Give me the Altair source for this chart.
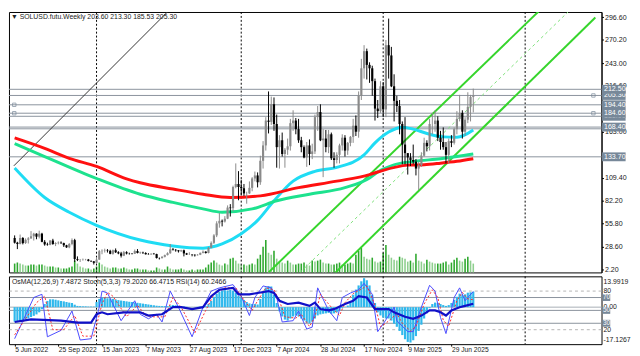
import altair as alt
import pandas as pd

FONT = "Liberation Sans"
W, H_MAIN, H_SUB = 603, 265, 69
START = pd.Timestamp("2022-06-05")

# ---------------- weekly bars (from 2022-06-05) ----------------
first_open = 39.0
closes = [33.5,32.0,39.0,33.0,37.0,38.5,41.0,44.0,40.5,44.0,
          34.5,31.5,31.0,36.0,32.0,33.0,33.5,33.0,30.5,28.0,
          32.0,36.5,14.5,13.5,13.5,13.7,13.8,12.2,11.7,10.0,
          13.7,23.6,24.0,24.4,23.9,20.5,24.7,22.3,21.0,18.3,
          22.4,20.9,20.8,20.6,23.8,21.5,21.9,21.5,20.0,19.8,
          20.6,20.2,15.6,15.4,17.0,19.0,21.2,25.8,25.2,24.6,
          23.5,24.6,21.0,19.7,19.8,19.4,18.8,19.4,21.6,23.0,
          21.5,27.5,33.3,42.0,56.0,59.0,58.2,61.5,74.5,73.8,
          98.5,102.0,98.5,97.0,91.0,91.0,97.5,108.5,112.0,104.0,
          129.0,147.0,176.0,174.5,195.0,172.0,145.0,153.0,137.0,142.0,
          146.0,173.0,176.0,166.0,153.0,145.0,133.0,147.0,137.0,140.0,
          180.0,186.0,153.0,155.0,145.0,160.0,132.0,130.0,136.0,147.0,
          156.0,141.0,150.0,157.0,170.0,163.0,205.0,237.0,257.0,241.0,
          237.0,222.0,190.0,187.0,216.0,189.0,264.0,252.0,216.0,199.0,
          193.0,172.0,148.0,138.0,133.0,130.0,128.0,120.0,124.0,135.0,
          150.0,146.0,172.0,172.0,176.0,156.0,151.0,145.0,136.0,152.0,
          150.0,166.0,178.0,185.0,163.0,177.0,192.0,203.6,205.3]
highs = [42.0,34.5,43.0,40.0,38.5,40.0,47.0,45.0,44.5,47.5,
         45.0,36.5,33.5,36.5,38.0,34.0,35.0,35.0,33.5,31.0,
         33.0,38.5,38.0,17.5,14.5,15.0,14.6,14.5,12.8,12.0,
         16.5,25.0,25.7,26.5,26.0,25.2,25.5,26.8,23.5,22.8,
         23.8,23.5,21.8,21.4,25.5,26.0,23.0,23.0,22.3,21.3,
         21.0,21.5,20.6,16.2,17.8,19.6,22.3,32.0,27.3,26.0,
         24.8,25.2,25.4,21.6,22.3,20.0,19.9,20.2,22.0,24.5,
         23.5,28.5,35.0,43.5,58.5,68.2,60.5,64.5,77.0,78.5,
         100.0,126.0,117.0,107.0,102.0,93.0,105.0,110.0,116.5,115.5,
         135.0,152.0,180.0,210.0,204.0,203.0,183.0,159.0,162.0,144.0,
         155.0,178.0,188.0,179.0,178.0,157.0,147.0,151.0,154.0,149.0,
         183.0,193.0,195.0,166.0,165.0,165.0,162.0,139.0,139.0,149.0,
         160.0,159.0,151.0,158.0,178.0,182.0,210.0,248.0,264.0,260.0,
         244.0,240.0,225.0,200.0,222.0,221.0,270.0,295.0,262.0,230.0,
         205.0,200.0,175.0,180.0,138.0,138.0,148.0,131.0,128.0,139.0,
         156.0,153.0,178.0,185.0,188.0,181.0,164.0,168.0,151.0,155.0,
         159.0,168.0,187.0,206.0,188.0,180.0,209.0,206.0,213.3]
lows = [32.5,26.0,31.5,31.5,32.0,32.5,38.0,36.0,37.5,38.5,
        34.0,30.0,30.0,30.5,31.0,29.5,31.5,32.0,28.5,27.5,
        27.0,30.5,11.0,12.0,11.0,12.5,12.8,11.6,11.0,8.0,
        9.6,13.5,20.0,22.0,22.0,20.0,19.5,21.5,20.0,16.2,
        17.8,19.8,19.6,19.8,20.3,21.0,20.5,20.3,19.6,19.5,
        19.5,19.6,15.0,13.9,15.2,16.3,18.6,20.5,24.3,23.0,
        22.0,22.7,17.5,19.2,19.2,17.6,17.3,18.5,19.0,21.0,
        20.8,21.0,27.0,32.0,40.0,51.0,52.5,57.0,61.0,64.0,
        70.0,97.0,83.0,88.5,88.0,79.0,90.5,93.5,105.0,98.0,
        101.0,120.0,141.0,161.0,171.0,164.0,121.0,120.0,134.0,121.0,
        136.0,141.0,164.0,160.0,150.0,139.0,132.0,122.0,124.0,131.0,
        137.0,164.0,152.0,110.0,139.0,138.0,130.0,121.0,126.0,126.0,
        141.0,134.0,136.0,146.0,150.0,158.0,156.0,200.0,225.0,224.0,
        220.0,205.0,176.0,179.0,185.0,180.0,180.0,225.0,215.0,175.0,
        186.0,160.0,125.0,125.0,113.0,123.0,125.0,112.0,95.0,122.0,
        134.0,140.0,141.0,160.0,163.0,152.0,142.0,142.0,126.0,126.0,
        145.0,148.0,160.0,175.0,155.0,158.0,173.0,175.0,185.53]
volumes = [9,10,9,8,7,7,8,8,7,8,
           8,7,6,6,6,5,5,4,4,4,
           5,6,12,9,6,5,4,4,3,4,
           6,10,8,6,5,4,5,5,4,4,
           5,4,3,3,4,4,3,3,3,2,
           2,2,5,4,3,3,6,4,3,3,
           3,4,3,2,2,3,2,3,3,3,
           5,8,10,12,10,8,7,9,8,14,
           15,12,9,8,8,7,8,9,8,14,
           18,26,33,20,18,22,14,11,10,9,
           12,10,8,8,9,9,10,8,7,12,
           11,12,13,10,9,9,8,8,9,10,
           8,8,9,10,9,18,22,25,16,14,
           13,15,11,10,11,20,28,18,15,13,
           12,16,15,14,11,12,10,19,12,11,
           9,13,11,10,9,9,9,10,11,8,
           10,13,15,12,11,14,16,12,9]
osma = [-7.0,-7.2,-7.0,-6.6,-6.0,-5.4,-4.8,-4.2,-3.5,-2.5,
        -1.0,1.5,3.0,3.8,3.8,3.6,3.3,3.0,2.8,2.5,
        2.2,2.0,1.2,0.6,0.5,0.4,0.4,0.3,0.3,0.3,
        2.5,4.0,4.6,4.6,4.3,4.2,4.0,3.7,3.4,3.2,
        3.0,2.8,2.6,2.5,2.3,2.1,1.9,1.7,1.5,1.3,
        1.1,0.9,0.7,0.6,0.5,0.5,0.5,0.8,1.0,0.9,
        0.7,0.5,0.3,0.2,0.1,0.1,0.1,0.2,0.3,0.4,
        0.5,1.5,3.0,5.0,6.5,7.5,8.0,8.2,8.0,8.3,
        8.0,7.0,5.5,4.5,3.5,2.5,1.8,1.5,1.5,1.3,
        4.0,7.0,9.5,10.2,10.0,6.0,2.0,-2.0,-4.5,-6.0,
        -6.5,-5.5,-4.5,-4.0,-4.5,-5.5,-6.5,-7.5,-7.8,-7.0,
        -5.5,-4.0,-3.5,-3.2,-3.0,-2.8,-3.2,-3.0,-2.5,-1.5,
        -0.5,0.2,0.8,3.0,6.0,8.5,10.5,12.5,13.99,13.0,
        10.5,6.0,2.0,-2.5,-4.0,-5.0,-5.5,-5.5,-6.5,-8.0,
        -9.5,-11.5,-13.5,-15.5,-16.8,-17.1,-16.0,-14.0,-11.5,-8.5,
        -5.5,-3.0,-0.5,1.5,2.2,2.0,1.5,1.0,0.6,1.0,
        2.0,3.5,5.0,6.5,6.0,6.2,7.0,7.2,7.4872]

# ---------------- moving averages (bar index, value) ----------------
red_ma = [(0,155.7),(11,143.5),(20,132),(30,122.5),(41,108),(46,103.4),(58,96.1),(69,90.0),
          (79,86.2),(90,88.1),(104,97.7),(118,105.3),(130,113.0),(133,116.0),(144,124.0),
          (150,124.5),(156,126.3),(162,128.5),(168,131.5)]
green_ma = [(0,149.2),(11,134),(30,108.4),(46,90),(58,80.5),(69,72.9),(76,69),(87,72.9),
            (96,82.4),(108,90),(121,97.7),(130,109),(133,116),(139,124.4),(146,128.2),
            (156,131.5),(162,134),(168,137)]
cyan_ma = [(0,120.6),(11,86.2),(20,69),(30,53.8),(46,36.6),(58,29.7),(69,27.1),(76,32),
           (83,44),(89,59.5),(95,82.4),(102,105.3),(110,116.8),(118,121.3),(128,135.9),
           (132,150),(137,162.6),(142,168.3),(146,166),(152,160),(157,157),(162,156.5),(168,165)]

# ---------------- oscillators (bar index, value) ----------------
stoch_main = [(0,6),(7,70),(10,75),(12,9),(17,19),(21,49),(24,4),(28,6),(31,55),(32,80),(34,77),
              (39,34),(44,65),(46,44),(49,37),(52,44),(54,32),(57,80),(60,55),(65,9),(69,55),
              (72,80),(75,85),(80,90),(83,72),(86,42),(88,70),(91,88),(94,85),(96,70),(98,32),
              (102,34),(104,49),(107,21),(109,24),(111,85),(115,50),(118,34),(120,70),(123,77),
              (126,82),(128,92),(131,75),(133,17),(135,29),(139,55),(140,34),(144,17),(146,17),
              (149,55),(152,89),(154,80),(156,39),(158,14),(161,70),(163,85),(165,65),(166,70),
              (168,79.2)]
stoch_signal = [(0,12),(8,62),(11,72),(14,20),(18,20),(22,42),(25,10),(29,10),(32,60),(34,78),
                (36,72),(41,40),(45,58),(48,42),(51,40),(53,40),(55,40),(58,70),(61,55),(66,15),
                (70,50),(73,75),(77,85),(81,85),(84,66),(87,50),(89,65),(92,85),(95,82),(97,65),
                (99,40),(103,38),(105,44),(108,25),(110,40),(112,75),(116,55),(119,42),(121,62),
                (124,76),(127,83),(129,88),(132,58),(134,25),(136,30),(140,45),(142,30),(145,18),
                (147,25),(150,60),(153,82),(155,70),(157,35),(159,25),(162,65),(164,78),(166,68),
                (168,66.5)]
rsi = [(0,32),(6,36),(17,34),(23,31),(28,31),(30,44),(32,47),(34,44),(40,47),(46,47),(49,42),
       (54,44),(58,55),(61,55),(65,52),(69,55),(72,72),(75,82),(80,85),(82,75),(86,75),(89,77),
       (93,80),(95,77),(97,65),(100,60),(104,62),(108,57),(110,62),(112,52),(115,50),(117,52),
       (121,60),(124,65),(126,72),(129,70),(132,52),(135,52),(137,52),(139,47),(143,40),
       (146,37),(149,42),(152,50),(154,50),(156,47),(158,42),(160,50),(163,55),(165,57),(168,60.25)]

# ---------------- drawn objects ----------------
levels = [212.5, 205.3, 194.4, 184.6, 181.0, 168.4, 166.4, 133.7]
hidden_boxes = [(181.0, "181.00"), (205.3, "205.30")]
shown_boxes = [(212.5, "212.50"), (194.4, "194.40"), (184.6, "184.60"), (168.4, "168.40"), (133.7, "133.70")]
price_ticks = [2.2, 28.6, 55.8, 82.2, 109.4, 163.0, 216.6, 243.0, 270.2, 296.6]
x_label_dates = ["2022-06-05","2022-09-25","2023-01-15","2023-05-07","2023-08-27","2023-12-17",
                 "2024-04-07","2024-07-28","2024-11-17","2025-03-09","2025-06-29"]
year_lines = ["2023-01-01","2024-01-07","2025-01-05","2026-01-04"]
channel_solid = [("A","2024-03-17",-1.2),("A","2026-02-26",311.5),
                 ("B","2024-09-05",-1.2),("B","2026-07-03",296.3)]
channel_mid = [("M","2024-06-06",-1.2),("M","2026-05-06",308.1)]
trend_black = [("2022-06-03",123.2),("2023-07-21",311.5)]
anchors = [("2022-06-04",194.4),("2022-06-04",184.6),("2026-06-28",205.3),("2026-06-28",184.6)]
header_main = "\u25BC SOLUSD.futu.Weekly  203.60 213.30 185.53 205.30"
header_sub = "OsMA(12,26,9) 7.4872  Stoch(5,3,3) 79.2020 66.4715  RSI(14) 60.2466"
sub_levels = [(80,"dash"),(20,"dash"),(70,"solid"),(30,"solid"),(50,"solid")]
sub_boxes = [(70,"70"),(50,"50"),(30,"30")]
sub_plain = [(80,"80"),(20,"20")]
osma_labels = [(13.9919,"13.9919","top"),(0.0,"0.00","middle"),(-17.1267,"-17.1267","bottom")]

n = len(closes)
assert len(highs) == n and len(lows) == n and len(volumes) == n and len(osma) == n

def wk(i):
    return START + pd.Timedelta(weeks=i)

opens = [first_open] + closes[:-1]
bars = pd.DataFrame({
    "date": [wk(i) for i in range(n)],
    "open": opens, "high": highs, "low": lows, "close": closes,
    "vol": volumes, "osma": osma, "zero": [0.0] * n,
})
bars["ccol"] = ["#8a8a8a" if c >= o else "#000000" for o, c in zip(opens, closes)]
bars["vcol"] = ["#2ea82e"] + ["#2ea82e" if v >= p else "#8fcf8f" for p, v in zip(volumes[:-1], volumes[1:])]

MA_COLORS = {"cyan": "#1fdcf4", "green": "#1de28e", "red": "#ff1010"}

def pts_df(pts, name):
    return pd.DataFrame({"date": [wk(i) for i, _ in pts], "value": [v for _, v in pts], "series": name})

ma_df = pd.concat([pts_df(cyan_ma, "cyan"), pts_df(green_ma, "green"), pts_df(red_ma, "red")])
ma_df["col"] = ma_df["series"].map(MA_COLORS)

def DT(s, hours=0):
    t = pd.Timestamp(s)
    return alt.DateTime(year=t.year, month=t.month, date=t.day, hours=hours)

xscale = alt.Scale(domain=[DT("2022-06-03", 2), DT("2026-07-06", 7)], nice=False)
price_scale = alt.Scale(domain=[-1.2, 302.7], nice=False, zero=False)
price_axis = alt.Axis(orient="right", values=price_ticks, format=".2f", grid=False, zindex=0,
                      labelFont=FONT, labelFontSize=7.2, labelColor="#1a1a1a", tickSize=2,
                      tickColor="#000", domainColor="#000", labelPadding=1, labelOverlap=False,
                      labelFlush=False)
x_axis = alt.Axis(values=[DT(d) for d in x_label_dates], format="%-d %b %Y", labelAlign="left",
                  labelBaseline="top", labelPadding=0, tickSize=2, tickColor="#000", zindex=0,
                  labelFont=FONT, labelFontSize=6.8, labelColor="#1a1a1a", grid=False,
                  domain=False, labelFlush=False, labelOverlap=False)

def Xm(f="date"):
    return alt.X(f, type="temporal", scale=xscale, axis=None, title=None)

def Xs(f="date"):
    return alt.X(f, type="temporal", scale=xscale, axis=x_axis, title=None)

def Yp(f):
    return alt.Y(f, type="quantitative", scale=price_scale, axis=price_axis, title=None)

LEVEL_C = "#8a929c"
BOX_C = "#778899"

# ---------------- main panel ----------------
vol_layer = alt.Chart(bars).mark_bar(size=1.6).encode(
    x=Xm(),
    y=alt.Y("vol:Q", scale=alt.Scale(domain=[0, 265], nice=False, zero=True), axis=None, title=None),
    color=alt.Color("vcol:N", scale=None),
)

grid_df = pd.DataFrame({"date": [pd.Timestamp(d) for d in year_lines]})
vgrid = alt.Chart(grid_df).mark_rule(color="#000", strokeWidth=1, strokeDash=[2, 2]).encode(x=Xm())
vgrid_sub = alt.Chart(grid_df).mark_rule(color="#000", strokeWidth=1, strokeDash=[2, 2]).encode(x=Xs())

lvl = alt.Chart(pd.DataFrame({"level": levels})).mark_rule(color=LEVEL_C, strokeWidth=1).encode(y=Yp("level"))

tb = pd.DataFrame({"date": [pd.Timestamp(d) for d, _ in trend_black], "value": [v for _, v in trend_black]})
trend = alt.Chart(tb).mark_line(color="#333", strokeWidth=1, clip=True).encode(x=Xm(), y=Yp("value"))

ch_df = pd.DataFrame({"line": [a for a, _, _ in channel_solid],
                      "date": [pd.Timestamp(d) for _, d, _ in channel_solid],
                      "value": [v for _, _, v in channel_solid]})
chan = alt.Chart(ch_df).mark_line(color="#36d52c", strokeWidth=2, clip=True).encode(
    x=Xm(), y=Yp("value"), detail="line:N")
cm_df = pd.DataFrame({"line": [a for a, _, _ in channel_mid],
                      "date": [pd.Timestamp(d) for _, d, _ in channel_mid],
                      "value": [v for _, _, v in channel_mid]})
chan_mid = alt.Chart(cm_df).mark_line(color="#7ee07a", strokeWidth=1, strokeDash=[3, 3], clip=True).encode(
    x=Xm(), y=Yp("value"))

mas = alt.Chart(ma_df).mark_line(strokeWidth=3, interpolate="monotone").encode(
    x=Xm(), y=Yp("value"), detail="series:N", color=alt.Color("col:N", scale=None))

wick = alt.Chart(bars).mark_rule(strokeWidth=1).encode(
    x=Xm(), y=Yp("low"), y2="high", color=alt.Color("ccol:N", scale=None))
body = alt.Chart(bars).mark_bar(size=2.2).encode(
    x=Xm(), y=Yp("open"), y2="close", color=alt.Color("ccol:N", scale=None))

an_df = pd.DataFrame({"date": [pd.Timestamp(d) for d, _ in anchors], "value": [v for _, v in anchors]})
anch = alt.Chart(an_df).mark_point(shape="square", filled=False, size=12, color=BOX_C, strokeWidth=1).encode(
    x=Xm(), y=Yp("value"))

BOX_SHAPE = "M-1.333,-0.5H1.333V0.5H-1.333Z"

def box_layers(items):
    df = pd.DataFrame({"price": [p for p, _ in items], "label": [t for _, t in items]})
    rect = alt.Chart(df).mark_point(shape=BOX_SHAPE, filled=True, size=324, color=BOX_C,
                                    opacity=1, strokeWidth=0).encode(x=alt.value(W + 12.5), y=Yp("price"))
    txt = alt.Chart(df).mark_text(align="left", baseline="middle", font=FONT, fontSize=7.2,
                                  color="#ffffff").encode(x=alt.value(W + 2.5), y=Yp("price"), text="label:N")
    return [rect, txt]

hdr = alt.Chart(pd.DataFrame({"t": [header_main]})).mark_text(
    align="left", baseline="middle", font=FONT, fontSize=7, color="#222").encode(
    x=alt.value(2), y=alt.value(5), text="t:N")

price_group = alt.layer(vgrid, lvl, trend, chan, chan_mid, mas, wick, body, anch,
                        *box_layers(hidden_boxes), *box_layers(shown_boxes), hdr)
main = alt.layer(vol_layer, price_group).resolve_scale(y="independent").properties(width=W, height=H_MAIN)

# ---------------- indicator panel ----------------
osma_scale = alt.Scale(domain=[-17.887, 14.894], nice=False, zero=False)
osc_scale = alt.Scale(domain=[-2.44, 102.9], nice=False, zero=False)

def Yo(f):
    return alt.Y(f, type="quantitative", scale=osma_scale, axis=None, title=None)

def Ys(f):
    return alt.Y(f, type="quantitative", scale=osc_scale, axis=None, title=None)

sl = pd.DataFrame({"v": [v for v, _ in sub_levels], "kind": [k for _, k in sub_levels]})
lv_dash = alt.Chart(sl[sl.kind == "dash"]).mark_rule(color="#b4b4b4", strokeWidth=1, strokeDash=[3, 3]).encode(y=Ys("v"))
lv_solid = alt.Chart(sl[sl.kind == "solid"]).mark_rule(color=LEVEL_C, strokeWidth=1).encode(y=Ys("v"))
osc_levels = alt.layer(vgrid_sub, lv_dash, lv_solid)

hist = alt.Chart(bars).mark_bar(size=2.2, color="#2fb8ec").encode(x=Xs(), y=Yo("osma"), y2="zero")
zero_rule = alt.Chart(pd.DataFrame({"z": [0.0]})).mark_rule(color="#a6adb5", strokeWidth=1).encode(y=Yo("z"))
ol = pd.DataFrame({"v": [v for v, _, _ in osma_labels], "t": [t for _, t, _ in osma_labels],
                   "b": [b for _, _, b in osma_labels]})
osma_txt = [alt.Chart(ol[ol.b == b]).mark_text(align="left", baseline=b, font=FONT, fontSize=7,
                                               color="#1a1a1a").encode(x=alt.value(W + 2), y=Yo("v"), text="t:N")
            for b in ["top", "middle", "bottom"]]
osma_group = alt.layer(zero_rule, hist, *osma_txt)

st_df = pts_df(stoch_main, "main")
sg_df = pts_df(stoch_signal, "signal")
rs_df = pts_df(rsi, "rsi")
st_line = alt.Chart(st_df).mark_line(color="#4a4aff", strokeWidth=1).encode(x=Xs(), y=Ys("value"))
sg_line = alt.Chart(sg_df).mark_line(color="#ff2a2a", strokeWidth=1, strokeDash=[2, 2]).encode(x=Xs(), y=Ys("value"))
rs_line = alt.Chart(rs_df).mark_line(color="#1010c8", strokeWidth=2.2).encode(x=Xs(), y=Ys("value"))

sp = pd.DataFrame({"v": [v for v, _ in sub_plain], "t": [t for _, t in sub_plain]})
plain_txt = alt.Chart(sp).mark_text(align="left", baseline="middle", font=FONT, fontSize=7,
                                    color="#1a1a1a").encode(x=alt.value(W + 2), y=Ys("v"), text="t:N")
sb = pd.DataFrame({"v": [v for v, _ in sub_boxes], "t": [t for _, t in sub_boxes]})
sbox = alt.Chart(sb).mark_point(shape="M-0.55,-0.5H0.55V0.5H-0.55Z", filled=True, size=196,
                                color=BOX_C, opacity=1, strokeWidth=0).encode(x=alt.value(W + 5), y=Ys("v"))
sbox_txt = alt.Chart(sb).mark_text(align="center", baseline="middle", font=FONT, fontSize=6.5,
                                   color="#ffffff").encode(x=alt.value(W + 5), y=Ys("v"), text="t:N")
sub_hdr = alt.Chart(pd.DataFrame({"t": [header_sub]})).mark_text(
    align="left", baseline="middle", font=FONT, fontSize=7, color="#222").encode(
    x=alt.value(3), y=alt.value(6), text="t:N")
osc_group = alt.layer(st_line, sg_line, rs_line, plain_txt, sbox, sbox_txt, sub_hdr)

sub = alt.layer(osc_levels, osma_group, osc_group).resolve_scale(y="independent").properties(
    width=W, height=H_SUB)

chart = alt.vconcat(main, sub, spacing=2).properties(
    padding={"left": 0, "top": 0, "right": 0, "bottom": 0}, background="white"
).configure(font=FONT).configure_view(stroke="#000000", strokeWidth=1)

chart.save("out.html", embed_options={"renderer": "svg", "actions": False})
